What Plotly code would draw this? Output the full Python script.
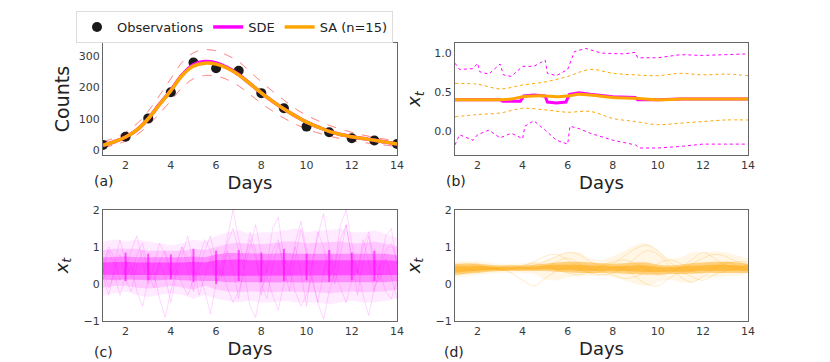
import plotly.graph_objects as go

# ---------------- data ----------------
obs_days = list(range(1, 15))
obs_counts = [18, 44, 102, 185, 279, 261, 253, 182, 134, 76, 58, 39, 32, 21]

half_days = [1 + 0.5 * i for i in range(27)]
sa_mean_a = [17, 28, 43, 66, 101, 146, 190, 238, 268, 277, 274, 261, 240, 212, 183, 156, 132, 110, 90, 75, 61, 51, 44, 38, 33, 27, 21]
sde_mean_a = [17, 28, 43, 66, 101, 147, 191, 240, 272, 282, 278, 263, 241, 212, 183, 156, 132, 110, 90, 75, 61, 51, 44, 38, 33, 27, 21]
upper_a = [28, 40, 58, 85, 125, 175, 228, 280, 310, 320, 316, 302, 282, 250, 218, 188, 160, 133, 112, 95, 80, 68, 58, 49, 42, 36, 31]
lower_a = [10, 18, 30, 50, 80, 118, 158, 200, 228, 238, 236, 225, 205, 178, 150, 125, 103, 84, 68, 56, 46, 38, 31, 26, 21, 17, 13]

# panel (b)
b_sde_days = [1, 2, 3, 3.12, 3.9, 4.05, 4.5, 5, 5.1, 5.5, 5.92, 6.08, 6.5, 7, 8, 9, 9.1, 10, 11, 12, 13, 14]
b_sde_mean = [0.40, 0.40, 0.40, 0.38, 0.38, 0.45, 0.46, 0.45, 0.37, 0.36, 0.37, 0.47, 0.49, 0.47, 0.44, 0.43, 0.40, 0.40, 0.41, 0.41, 0.41, 0.41]
b_sa_days = [1, 2, 3, 3.5, 4, 4.5, 5, 5.5, 6, 6.5, 7, 8, 9, 10, 11, 12, 13, 14]
b_sa_mean = [0.40, 0.40, 0.40, 0.41, 0.44, 0.45, 0.45, 0.44, 0.45, 0.47, 0.46, 0.43, 0.42, 0.40, 0.41, 0.41, 0.41, 0.41]
b_sde_hi_days = [1, 1.2, 1.8, 2, 2.1, 2.5, 3, 3.15, 3.5, 4, 4.5, 5, 5.1, 5.5, 6, 6.3, 6.8, 7.5, 8.5, 9, 9.1, 10, 11, 12, 13, 14]
b_sde_hi = [0.87, 0.79, 0.80, 0.87, 0.76, 0.73, 0.86, 0.72, 0.70, 0.83, 0.83, 0.91, 0.74, 0.71, 0.79, 1.02, 1.06, 1.00, 0.99, 1.01, 0.94, 0.94, 0.98, 0.97, 0.98, 0.99]
b_sde_lo_days = [1, 1.2, 1.8, 2, 2.5, 3, 3.5, 4, 4.1, 4.5, 5, 5.5, 6, 6.1, 6.5, 7, 8, 9, 9.2, 10, 11, 12, 13, 14]
b_sde_lo = [-0.18, -0.05, -0.12, -0.05, 0.01, -0.09, -0.03, -0.10, 0.06, 0.13, 0.01, -0.12, -0.17, 0.06, 0.03, -0.03, -0.12, -0.18, -0.22, -0.22, -0.20, -0.17, -0.17, -0.17]
b_sa_hi = [0.61, 0.60, 0.54, 0.59, 0.63, 0.70, 0.79, 0.74, 0.72, 0.71, 0.74, 0.72, 0.73, 0.71]
b_sa_lo = [0.18, 0.21, 0.23, 0.29, 0.27, 0.24, 0.25, 0.16, 0.12, 0.08, 0.10, 0.12, 0.14, 0.14]

# panel (c): SDE sample paths, summarised by nested density bands + a few read paths
c_outer_lo = [-0.3, -0.25, -0.2, -0.3, -0.35, -0.3, -0.25, -0.3, -0.4, -0.3, -0.4, -0.45, -0.5, -0.45, -0.5, -0.5, -0.45, -0.5, -0.5, -0.5, -0.55, -0.5, -0.45, -0.5, -0.5, -0.45, -0.4]
c_outer_hi = [1.15, 1.2, 1.15, 1.2, 1.15, 1.1, 1.05, 1.1, 1.2, 1.15, 1.3, 1.4, 1.45, 1.35, 1.4, 1.4, 1.45, 1.5, 1.4, 1.45, 1.45, 1.5, 1.4, 1.4, 1.45, 1.35, 1.25]
c_mid_lo = [-0.1, -0.05, -0.05, -0.1, -0.12, -0.1, -0.05, -0.1, -0.15, -0.05, -0.15, -0.2, -0.22, -0.2, -0.22, -0.22, -0.2, -0.22, -0.22, -0.22, -0.25, -0.22, -0.2, -0.22, -0.22, -0.2, -0.15]
c_mid_hi = [0.92, 0.95, 0.95, 0.95, 0.9, 0.9, 0.88, 0.9, 0.95, 0.92, 1.0, 1.08, 1.12, 1.08, 1.08, 1.1, 1.15, 1.15, 1.1, 1.12, 1.12, 1.15, 1.1, 1.1, 1.15, 1.08, 1.02]
c_core_lo = [0.12, 0.1, 0.12, 0.1, 0.1, 0.1, 0.12, 0.1, 0.08, 0.08, 0.08, 0.05, 0.05, 0.04, 0.05, 0.04, 0.05, 0.04, 0.05, 0.04, 0.05, 0.05, 0.05, 0.05, 0.05, 0.05, 0.08]
c_core_hi = [0.72, 0.74, 0.74, 0.72, 0.72, 0.7, 0.7, 0.72, 0.74, 0.72, 0.8, 0.84, 0.84, 0.82, 0.82, 0.82, 0.84, 0.82, 0.82, 0.82, 0.84, 0.82, 0.82, 0.82, 0.84, 0.82, 0.78]
c_dense_lo = [0.25, 0.24, 0.25, 0.24, 0.24, 0.24, 0.25, 0.24, 0.23, 0.23, 0.23, 0.22, 0.22, 0.22, 0.22, 0.22, 0.22, 0.22, 0.22, 0.22, 0.22, 0.22, 0.22, 0.22, 0.22, 0.22, 0.24]
c_dense_hi = [0.58, 0.6, 0.6, 0.58, 0.58, 0.56, 0.56, 0.58, 0.6, 0.58, 0.64, 0.66, 0.66, 0.64, 0.64, 0.64, 0.66, 0.64, 0.64, 0.64, 0.66, 0.64, 0.64, 0.64, 0.66, 0.64, 0.62]
c_stripe_days = [2, 3, 4, 5, 6, 7, 8, 9, 10, 11, 12, 13]
c_stripe_lo = [0.08, 0.1, 0.12, 0.05, 0.0, 0.08, 0.05, 0.08, 0.1, 0.05, 0.1, 0.08]
c_stripe_hi = [0.85, 0.82, 0.8, 0.95, 0.9, 0.92, 0.85, 0.95, 0.82, 0.92, 0.85, 0.9]
quarter_days = [1 + 0.25 * i for i in range(53)]
c_path1 = [0.3, 0.9, 0.5, 1.2, 0.6, 0.2, 0.8, 1.1, 0.4, 0.1, 0.6, 0.9, 0.3, 0.5, 1.0, 0.7, 0.2, 0.4, 0.9, 1.3, 0.6, 0.2, 1.1, 1.5, 0.9, 0.4, 1.0, 1.6, 0.8, 0.3, 0.9, 1.2, 0.5, 0.2, 1.1, 1.7, 0.9, 0.5, 1.3, 1.9, 1.0, 0.4, 1.2, 1.6, 0.7, 0.3, 1.0, 1.4, 0.6, 0.4, 0.9, 1.1, 0.6]
c_path2 = [0.4, -0.1, 0.3, -0.3, 0.2, 0.5, -0.2, -0.6, 0.1, 0.3, -0.4, -0.9, -0.2, 0.4, 0.0, -0.3, 0.1, 0.3, -0.2, -0.8, 0.0, 0.4, -0.1, -0.5, -0.2, 0.3, -0.6, -0.9, -0.1, 0.2, -0.3, -0.7, 0.0, 0.4, -0.2, -0.6, -0.3, 0.2, -0.5, -0.95, -0.2, 0.3, -0.1, -0.5, 0.1, 0.4, -0.3, -0.85, -0.1, 0.3, -0.2, -0.4, 0.1]
c_path3 = [0.5, 1.0, 0.7, 0.1, 0.4, 0.9, 1.3, 0.6, 0.0, 0.5, 1.1, 0.8, 0.2, 0.6, 1.0, 0.4, -0.2, 0.7, 1.2, 0.9, 0.3, 0.5, 1.3, 2.0, 1.2, 0.6, 1.4, 0.9, -0.3, 0.5, 1.5, 1.8, 0.7, 0.4, 1.0, 0.3, -0.6, 0.6, 1.4, 1.0, 0.2, 0.5, 1.6, 2.0, 1.1, 0.3, 1.2, 0.6, -0.2, 0.5, 1.3, 1.5, 0.5]
c_path4 = [0.2, -0.3, 0.4, 0.8, 0.1, -0.2, 0.5, 0.9, 0.3, -0.1, 0.6, 0.2, -0.5, 0.3, 0.8, 1.3, 0.5, -0.3, 0.2, 0.7, 0.1, 0.2, 0.9, 0.4, -0.4, 0.6, 1.2, 0.7, 0.0, -0.4, 0.5, 1.1, 0.4, -0.2, 0.7, 1.5, 0.8, 0.1, -0.5, 0.3, 0.9, 0.0, 0.8, 1.6, 0.7, -0.3, 0.6, 1.3, 0.4, 0.1, 0.7, 0.2, -0.4]

# panel (d): SA sample paths, summarised by bands + a few read paths
d_core_lo = [0.25, 0.28, 0.3, 0.33, 0.35, 0.36, 0.35, 0.35, 0.35, 0.33, 0.32, 0.3, 0.3, 0.3, 0.3, 0.28, 0.27, 0.25, 0.25, 0.27, 0.27, 0.28, 0.3, 0.3, 0.3, 0.3, 0.3]
d_core_hi = [0.55, 0.55, 0.55, 0.52, 0.5, 0.5, 0.5, 0.52, 0.55, 0.58, 0.6, 0.6, 0.58, 0.56, 0.55, 0.56, 0.58, 0.58, 0.52, 0.5, 0.52, 0.56, 0.58, 0.6, 0.6, 0.58, 0.55]
d_dense_lo = [0.32, 0.34, 0.36, 0.38, 0.38, 0.39, 0.39, 0.39, 0.4, 0.38, 0.37, 0.36, 0.36, 0.36, 0.36, 0.35, 0.34, 0.33, 0.32, 0.33, 0.33, 0.34, 0.36, 0.36, 0.36, 0.36, 0.36]
d_dense_hi = [0.48, 0.49, 0.49, 0.47, 0.46, 0.46, 0.46, 0.47, 0.5, 0.52, 0.52, 0.52, 0.5, 0.49, 0.48, 0.49, 0.5, 0.5, 0.46, 0.45, 0.46, 0.49, 0.5, 0.52, 0.52, 0.5, 0.49]
d_outer_lo = [0.18, 0.2, 0.24, 0.28, 0.3, 0.3, 0.3, 0.28, 0.12, 0.1, 0.18, 0.2, 0.22, 0.22, 0.18, 0.1, 0.0, -0.05, 0.05, 0.12, 0.05, 0.05, 0.15, 0.18, 0.2, 0.22, 0.28]
d_outer_hi = [0.6, 0.62, 0.62, 0.58, 0.55, 0.55, 0.56, 0.6, 0.65, 0.75, 0.85, 0.85, 0.7, 0.65, 0.75, 0.9, 1.05, 1.1, 0.9, 0.7, 0.72, 0.85, 0.85, 0.88, 0.85, 0.78, 0.68]
d_path1 = [0.35, 0.4, 0.45, 0.42, 0.4, 0.38, 0.42, 0.5, 0.6, 0.75, 0.85, 0.8, 0.6, 0.5, 0.55, 0.75, 0.95, 1.05, 0.9, 0.6, 0.45, 0.55, 0.7, 0.8, 0.75, 0.6, 0.5]
d_path2 = [0.25, 0.3, 0.38, 0.42, 0.4, 0.3, 0.1, -0.05, 0.15, 0.35, 0.45, 0.4, 0.3, 0.35, 0.45, 0.4, 0.2, 0.0, -0.05, 0.15, 0.3, 0.2, 0.1, 0.25, 0.35, 0.4, 0.35]
d_path3 = [0.5, 0.55, 0.5, 0.45, 0.42, 0.45, 0.5, 0.55, 0.5, 0.4, 0.3, 0.25, 0.35, 0.5, 0.6, 0.65, 0.55, 0.4, 0.25, 0.3, 0.45, 0.65, 0.85, 0.7, 0.5, 0.45, 0.5]
d_path4 = [0.3, 0.35, 0.4, 0.38, 0.36, 0.4, 0.48, 0.6, 0.75, 0.8, 0.65, 0.45, 0.3, 0.25, 0.3, 0.45, 0.7, 0.9, 0.8, 0.5, 0.2, 0.05, 0.2, 0.4, 0.55, 0.6, 0.6]
d_path5 = [0.45, 0.4, 0.35, 0.38, 0.45, 0.5, 0.45, 0.4, 0.45, 0.6, 0.7, 0.55, 0.4, 0.35, 0.25, 0.15, 0.2, 0.35, 0.55, 0.65, 0.55, 0.35, 0.3, 0.45, 0.6, 0.5, 0.4]

x_ticks = [2, 4, 6, 8, 10, 12, 14]
panel_labels = ["(a)", "(b)", "(c)", "(d)"]

MAG = "#ff00ff"
ORG = "#ffa500"
FONT = "DejaVu Sans"

fig = go.Figure()

# ---------- (a) ----------
for lo_hi, col in ((upper_a, MAG), (lower_a, MAG), (upper_a, ORG), (lower_a, ORG)):
    fig.add_trace(go.Scatter(x=half_days, y=lo_hi, mode="lines", line=dict(color=col, width=0.8, dash="dash", shape="spline"),
                             opacity=0.6, showlegend=False, xaxis="x", yaxis="y"))
fig.add_trace(go.Scatter(x=obs_days, y=obs_counts, mode="markers", name="Observations",
                         marker=dict(color="#1a1a1a", size=10), showlegend=True, xaxis="x", yaxis="y"))
fig.add_trace(go.Scatter(x=half_days, y=sde_mean_a, mode="lines", name="SDE", line=dict(color=MAG, width=3.5, shape="spline"),
                         showlegend=True, xaxis="x", yaxis="y"))
fig.add_trace(go.Scatter(x=half_days, y=sa_mean_a, mode="lines", name="SA (n=15)", line=dict(color=ORG, width=3.5, shape="spline"),
                         showlegend=True, xaxis="x", yaxis="y"))

# ---------- (b) ----------
fig.add_trace(go.Scatter(x=b_sde_hi_days, y=b_sde_hi, mode="lines", line=dict(color=MAG, width=1, dash="dot"),
                         showlegend=False, xaxis="x2", yaxis="y2"))
fig.add_trace(go.Scatter(x=b_sde_lo_days, y=b_sde_lo, mode="lines", line=dict(color=MAG, width=1, dash="dot"),
                         showlegend=False, xaxis="x2", yaxis="y2"))
fig.add_trace(go.Scatter(x=obs_days, y=b_sa_hi, mode="lines", line=dict(color=ORG, width=1, dash="dot", shape="spline"),
                         showlegend=False, xaxis="x2", yaxis="y2"))
fig.add_trace(go.Scatter(x=obs_days, y=b_sa_lo, mode="lines", line=dict(color=ORG, width=1, dash="dot", shape="spline"),
                         showlegend=False, xaxis="x2", yaxis="y2"))
fig.add_trace(go.Scatter(x=b_sde_days, y=b_sde_mean, mode="lines", line=dict(color=MAG, width=3),
                         showlegend=False, xaxis="x2", yaxis="y2"))
fig.add_trace(go.Scatter(x=b_sa_days, y=b_sa_mean, mode="lines", line=dict(color=ORG, width=3, shape="spline"),
                         showlegend=False, xaxis="x2", yaxis="y2"))


def band(xs, lo, hi, color, xa, ya, shape="linear"):
    fig.add_trace(go.Scatter(x=xs, y=lo, mode="lines", line=dict(width=0, shape=shape), showlegend=False,
                             hoverinfo="skip", xaxis=xa, yaxis=ya))
    fig.add_trace(go.Scatter(x=xs, y=hi, mode="lines", line=dict(width=0, shape=shape), fill="tonexty",
                             fillcolor=color, showlegend=False, hoverinfo="skip", xaxis=xa, yaxis=ya))


# ---------- (c) ----------
for p in (c_path1, c_path2, c_path3, c_path4):
    fig.add_trace(go.Scatter(x=quarter_days, y=p, mode="lines", line=dict(color="rgba(255,0,255,0.16)", width=1),
                             showlegend=False, xaxis="x3", yaxis="y3"))
band(half_days, c_outer_lo, c_outer_hi, "rgba(255,0,255,0.08)", "x3", "y3")
band(half_days, c_mid_lo, c_mid_hi, "rgba(255,0,255,0.14)", "x3", "y3")
band(half_days, c_core_lo, c_core_hi, "rgba(255,0,255,0.3)", "x3", "y3")
band(half_days, c_dense_lo, c_dense_hi, "rgba(255,0,255,0.45)", "x3", "y3")
for d, lo, hi in zip(c_stripe_days, c_stripe_lo, c_stripe_hi):
    fig.add_trace(go.Scatter(x=[d, d], y=[lo, hi], mode="lines", line=dict(color="rgba(255,0,255,0.6)", width=2),
                             showlegend=False, xaxis="x3", yaxis="y3"))

# ---------- (d) ----------
for p in (d_path1, d_path2, d_path3, d_path4, d_path5):
    fig.add_trace(go.Scatter(x=half_days, y=p, mode="lines", line=dict(color="rgba(255,165,0,0.22)", width=1, shape="spline"),
                             showlegend=False, xaxis="x4", yaxis="y4"))
band(half_days, d_outer_lo, d_outer_hi, "rgba(255,165,0,0.1)", "x4", "y4", "spline")
band(half_days, d_core_lo, d_core_hi, "rgba(255,165,0,0.45)", "x4", "y4", "spline")
band(half_days, d_dense_lo, d_dense_hi, "rgba(255,165,0,0.5)", "x4", "y4", "spline")

# ---------- layout ----------
W, H = 830, 362
xdom_l = [103 / W, 397 / W]
xdom_r = [455 / W, 748 / W]
ydom_t = [1 - 155 / H, 1 - 43 / H]
ydom_b = [1 - 321 / H, 1 - 210 / H]

tickfont = dict(family=FONT, size=11, color="#3a3a3a")
titlefont = dict(family=FONT, size=18, color="#222")
frame = dict(showline=True, linecolor="#666", linewidth=1.3, mirror=True, showgrid=False, zeroline=False, ticks="")


def xax(dom, anchor):
    return dict(domain=dom, anchor=anchor, range=[1, 14], tickvals=x_ticks, tickfont=tickfont,
                title=dict(text="Days", font=titlefont, standoff=2), **frame)


xt_label = "<i>x</i><sub><i>t</i></sub>"
fig.update_layout(
    width=W, height=H, margin=dict(l=0, r=0, t=0, b=0, autoexpand=False),
    paper_bgcolor="white", plot_bgcolor="white",
    font=dict(family=FONT, color="#222"),
    xaxis=xax(xdom_l, "y"), xaxis2=xax(xdom_r, "y2"), xaxis3=xax(xdom_l, "y3"), xaxis4=xax(xdom_r, "y4"),
    yaxis=dict(domain=ydom_t, anchor="x", range=[-14, 341], tickvals=[0, 100, 200, 300], tickfont=tickfont,
               title=dict(text="Counts", font=dict(family=FONT, size=19, color="#222"), standoff=4), **frame),
    yaxis2=dict(domain=ydom_t, anchor="x2", range=[-0.31, 1.13], tickvals=[0.0, 0.5, 1.0], ticktext=["0.0", "0.5", "1.0"],
                tickfont=tickfont, title=dict(text=xt_label, font=titlefont, standoff=8), **frame),
    yaxis3=dict(domain=ydom_b, anchor="x3", range=[-1, 2], tickvals=[-1, 0, 1, 2], ticktext=["\u22121", "0", "1", "2"],
                tickfont=tickfont, title=dict(text=xt_label, font=titlefont, standoff=10), **frame),
    yaxis4=dict(domain=ydom_b, anchor="x4", range=[-1, 2], tickvals=[-1, 0, 1, 2], ticktext=["\u22121", "0", "1", "2"],
                tickfont=tickfont, title=dict(text=xt_label, font=titlefont, standoff=10), **frame),
    legend=dict(orientation="h", x=76 / W, y=1 - 11 / H, xanchor="left", yanchor="top", traceorder="normal",
                bordercolor="#dddddd", borderwidth=1, bgcolor="white",
                font=dict(family=FONT, size=13, color="#222"), itemwidth=30),
    showlegend=True,
)

label_pos = [(104, 181), (456, 181), (103, 352), (454, 352)]
for txt, (px, py) in zip(panel_labels, label_pos):
    fig.add_annotation(text=txt, x=px / W, y=1 - py / H, xref="paper", yref="paper", showarrow=False,
                       font=dict(family=FONT, size=14, color="#222"), xanchor="center", yanchor="middle")

# remove the browser's default 8px page margin so the 830x362 figure fills the window exactly
fig.write_html("out.html", config={"displayModeBar": False},
               post_script="document.body.style.margin='0px';document.body.style.overflow='hidden';")
